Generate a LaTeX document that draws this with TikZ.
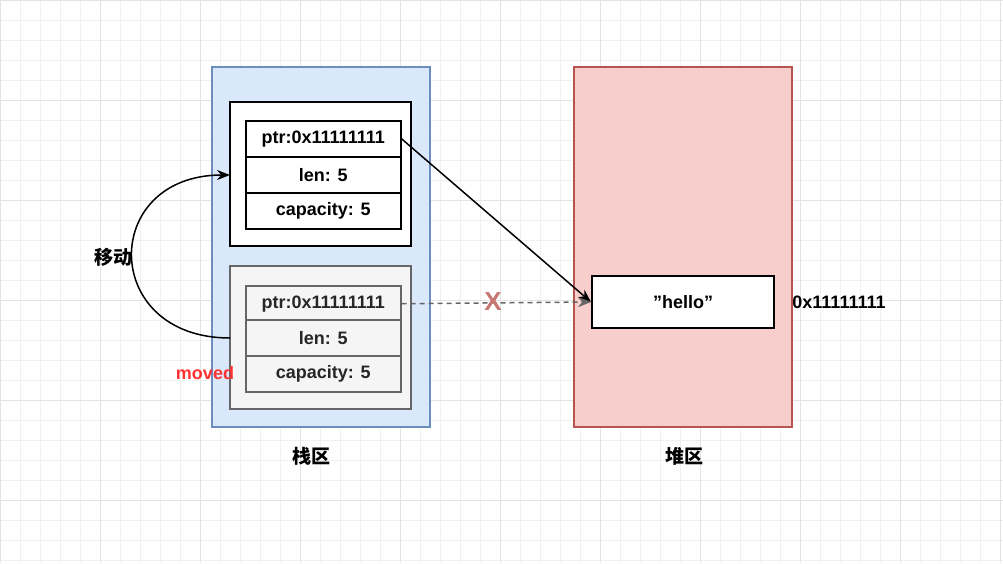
\documentclass[tikz,border=0pt]{standalone}
\usepackage{fontspec}
\setmainfont{Liberation Sans}
\newfontfamily\cjk{Noto Sans CJK SC}
\usetikzlibrary{arrows.meta}
\definecolor{bfill}{RGB}{218,232,252}
\definecolor{bdraw}{RGB}{108,142,191}
\definecolor{rfill}{RGB}{248,206,204}
\definecolor{rdraw}{RGB}{184,84,80}
\definecolor{gfill}{RGB}{245,245,245}
\definecolor{gdraw}{RGB}{102,102,102}
\definecolor{mred}{RGB}{255,51,51}
\begin{document}
\begin{tikzpicture}[x=1pt,y=-1pt,
  cell/.style={draw=#1,minimum width=155pt,minimum height=36pt,inner sep=0pt,font=\bfseries\fontsize{18}{20}\selectfont,anchor=north west,line width=1.5pt},
  lbl/.style={font=\bfseries\fontsize{18}{20}\selectfont},
  cjkl/.style={font=\cjk\bfseries\fontsize{19}{21}\selectfont},
  arr/.style={-{Stealth[length=13pt,width=10pt]},line width=1.5pt}]
\useasboundingbox (0,0) rectangle (1003,563);
\fill[white] (0,0) rectangle (1003,563);
\foreach \i in {0,20,...,1000} \draw[black!6,line width=0.8pt] (\i,0) -- (\i,563);
\foreach \i in {0,20,...,560} \draw[black!6,line width=0.8pt] (0,\i) -- (1003,\i);
\foreach \i in {0,100,...,1000} \draw[black!11,line width=0.8pt] (\i,0) -- (\i,563);
\foreach \i in {0,100,...,500} \draw[black!11,line width=0.8pt] (0,\i) -- (1003,\i);
% regions
\draw[fill=bfill,draw=bdraw,line width=1.5pt] (212,67) rectangle (430,427);
\draw[fill=rfill,draw=rdraw,line width=1.5pt] (574,67) rectangle (792,427);
% top struct
\draw[fill=white,line width=2pt] (230,102) rectangle (411,246);
\node[cell=black,fill=white] (p1) at (245,120) {ptr:0x11111111};
\node[cell=black,fill=white] (l1) at (245,156) {len: 5};
\node[cell=black,fill=white] (c1) at (245,192) {capacity: 5};
% bottom struct
\draw[fill=gfill,draw=gdraw,line width=2pt] (230,266) rectangle (411,409);
\node[cell=gdraw,fill=gfill,text=black!85] (p2) at (245,285) {ptr:0x11111111};
\node[cell=gdraw,fill=gfill,text=black!85] (l2) at (245,319) {len: 5};
\node[cell=gdraw,fill=gfill,text=black!85] (c2) at (245,355) {capacity: 5};
% hello
\node[draw,fill=white,line width=2pt,minimum width=182pt,minimum height=52pt,lbl] (h) at (683,302) {\char"22 hello\char"22};
\node[lbl] (addr) at (839,302) {0x11111111};
% labels
\node[cjkl] (s) at (311,456) {栈区};
\node[cjkl] (hp) at (684,456) {堆区};
\node[cjkl] (mv) at (113,257) {移动};
\node[lbl,text=mred] (md) at (205,373) {moved};
% connectors
\coordinate (b1) at (230,338);
\coordinate (t1) at (230,175);
\draw[arr] (b1) .. controls (100,338) and (100,175) .. (t1);
\draw[arr] (p1.east) -- (h.west);
\draw[-{Stealth[length=13pt,width=10pt]},line width=1.5pt,dash pattern=on 5pt off 4pt,gdraw] (p2.east) -- (h.west);
\node[font=\bfseries\fontsize{26}{28}\selectfont,text=rdraw!80] (x) at (493,302) {X};
\end{tikzpicture}
\end{document}
